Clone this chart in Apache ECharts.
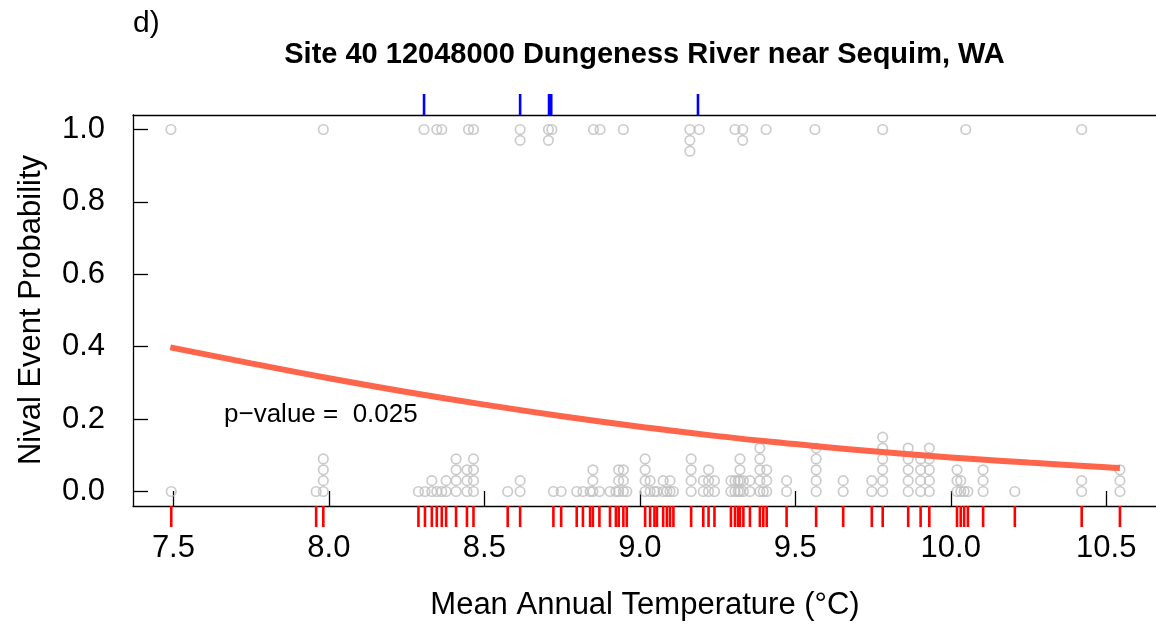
<!DOCTYPE html>
<html>
<head>
<meta charset="utf-8">
<script src="https://cdn.jsdelivr.net/npm/echarts@6/dist/echarts.min.js"></script>
<style>
  html, body { margin: 0; padding: 0; background: #fff; }
  #chart { width: 1156px; height: 624px; }
</style>
</head>
<body>
<div id="chart"></div>
<script>
// Observations with no nival event (y = 0): temperature and number of stacked points
const zeroX = [7.493, 7.959, 7.982, 8.288, 8.309, 8.331, 8.347, 8.363, 8.377, 8.409, 8.444, 8.465,
  8.575, 8.615, 8.722, 8.747, 8.797, 8.817, 8.840, 8.849, 8.870, 8.904, 8.923, 8.932, 8.947, 8.958,
  9.017, 9.033, 9.047, 9.055, 9.075, 9.087, 9.097, 9.108, 9.165, 9.204, 9.221, 9.240,
  9.293, 9.306, 9.316, 9.322, 9.333, 9.354, 9.386, 9.397, 9.408, 9.472, 9.567, 9.654,
  9.746, 9.781, 9.863, 9.903, 9.931, 10.020, 10.032, 10.043, 10.055, 10.104, 10.206, 10.421, 10.544];
const zeroCount = [1, 1, 4, 1, 1, 2, 1, 1, 2, 4, 3, 4,
  1, 2, 1, 1, 1, 1, 1, 3, 1, 1, 1, 3, 3, 1,
  4, 2, 1, 1, 2, 1, 2, 1, 4, 2, 3, 2,
  2, 2, 2, 4, 2, 2, 5, 1, 3, 2, 5, 2,
  2, 6, 5, 4, 5, 3, 2, 1, 1, 3, 1, 2, 3];

// Observations with a nival event (y = 1)
const oneX = [7.492, 7.982, 8.306, 8.347, 8.363, 8.449, 8.465, 8.615, 8.706, 8.717, 8.851, 8.872,
  8.947, 9.161, 9.191, 9.306, 9.331, 9.406, 9.563, 9.781, 10.048, 10.421];
const oneCount = [1, 1, 1, 1, 1, 1, 1, 2, 2, 1, 1, 1,
  1, 3, 1, 1, 2, 1, 1, 1, 1, 1];

// Top rug marks
const blueRugX = [8.306, 8.615, 8.708, 8.715, 9.187];

// Fitted logistic curve
const curveX = [7.49, 7.75, 8.0, 8.25, 8.5, 8.75, 9.0, 9.25, 9.5, 9.75, 10.0, 10.25, 10.5, 10.544];
const curveY = [0.398, 0.354, 0.313, 0.275, 0.240, 0.208, 0.179, 0.153, 0.131, 0.111, 0.094, 0.080, 0.067, 0.065];

const xTicks = [7.5, 8.0, 8.5, 9.0, 9.5, 10.0, 10.5];
const yTicks = [0, 0.2, 0.4, 0.6, 0.8, 1.0];

const stackStep = 0.03;
const FONT = '"Liberation Sans", Arial, Helvetica, sans-serif';

const zeroPts = [];
zeroX.forEach((x, i) => { for (let k = 0; k < zeroCount[i]; k++) zeroPts.push([x, k * stackStep]); });
const onePts = [];
oneX.forEach((x, i) => { for (let k = 0; k < oneCount[i]; k++) onePts.push([x, 1 - k * stackStep]); });

const chart = echarts.init(document.getElementById('chart'), null, { renderer: 'canvas' });

function rug(color, side) {
  return function (params, api) {
    const x = api.coord([api.value(0), 0])[0];
    const cs = params.coordSys;
    const y0 = side === 'bottom' ? cs.y + cs.height : cs.y;
    const y1 = side === 'bottom' ? y0 + 21 : y0 - 21;
    return { type: 'line', shape: { x1: x, y1: y0, x2: x, y2: y1 },
      style: { stroke: color, lineWidth: 2.6 } };
  };
}

const axisLineStyle = { color: '#000', width: 1.3 };

chart.setOption({
  animation: false,
  backgroundColor: '#fff',
  grid: { left: 133, top: 115, width: 1023, height: 391, containLabel: false },
  xAxis: [{
    type: 'value', min: 7.37, max: 10.66, position: 'bottom',
    axisLine: { show: true, onZero: false, lineStyle: axisLineStyle },
    axisTick: { show: true, inside: true, length: 15, customValues: xTicks, lineStyle: axisLineStyle },
    axisLabel: { customValues: xTicks, formatter: v => v.toFixed(1), margin: 27,
      fontSize: 31, fontFamily: FONT, color: '#000' },
    splitLine: { show: false }
  }, {
    type: 'value', min: 7.37, max: 10.66, position: 'top',
    axisLine: { show: true, onZero: false, lineStyle: axisLineStyle },
    axisTick: { show: false }, axisLabel: { show: false }, splitLine: { show: false }
  }],
  yAxis: {
    type: 'value', min: -0.04, max: 1.04,
    axisLine: { show: true, onZero: false, lineStyle: axisLineStyle },
    axisTick: { show: true, inside: true, length: 15, customValues: yTicks, lineStyle: axisLineStyle },
    axisLabel: { customValues: yTicks, formatter: v => v.toFixed(1), margin: 28,
      fontSize: 31, fontFamily: FONT, color: '#000' },
    splitLine: { show: false }
  },
  series: [{
    type: 'scatter', data: zeroPts.concat(onePts), symbol: 'circle', symbolSize: 9.5,
    itemStyle: { color: 'rgba(0,0,0,0)', borderColor: '#bebebe', borderWidth: 1.7 },
    z: 2
  }, {
    type: 'line', data: curveX.map((x, i) => [x, curveY[i]]), smooth: true, showSymbol: false,
    lineStyle: { color: '#ff654a', width: 6 }, z: 3
  }, {
    type: 'custom', data: zeroX.map(x => [x, 0]), renderItem: rug('#ff0000', 'bottom'), clip: false, z: 4
  }, {
    type: 'custom', data: blueRugX.map(x => [x, 1]), renderItem: rug('#0000ff', 'top'), clip: false, z: 4
  }],
  graphic: [
    { type: 'text', left: 133, top: 9, style: { text: 'd)', font: '30px ' + FONT, fill: '#000' } },
    { type: 'text', x: 644.5, y: 55, style: { text: 'Site 40 12048000 Dungeness River near Sequim, WA',
      font: 'bold 29px ' + FONT, fill: '#000', textAlign: 'center', textVerticalAlign: 'middle' } },
    { type: 'text', x: 224, y: 415, style: { text: 'p\u2212value =  0.025',
      font: '26px ' + FONT, fill: '#000', textAlign: 'left', textVerticalAlign: 'middle' } },
    { type: 'text', x: 645, y: 605, style: { text: 'Mean Annual Temperature (\u00b0C)',
      font: '31px ' + FONT, fill: '#000', textAlign: 'center', textVerticalAlign: 'middle' } },
    { type: 'text', x: 31, y: 310, rotation: Math.PI / 2, style: { text: 'Nival Event Probability',
      font: '31px ' + FONT, fill: '#000', textAlign: 'center', textVerticalAlign: 'middle' } }
  ]
});
</script>
</body>
</html>
